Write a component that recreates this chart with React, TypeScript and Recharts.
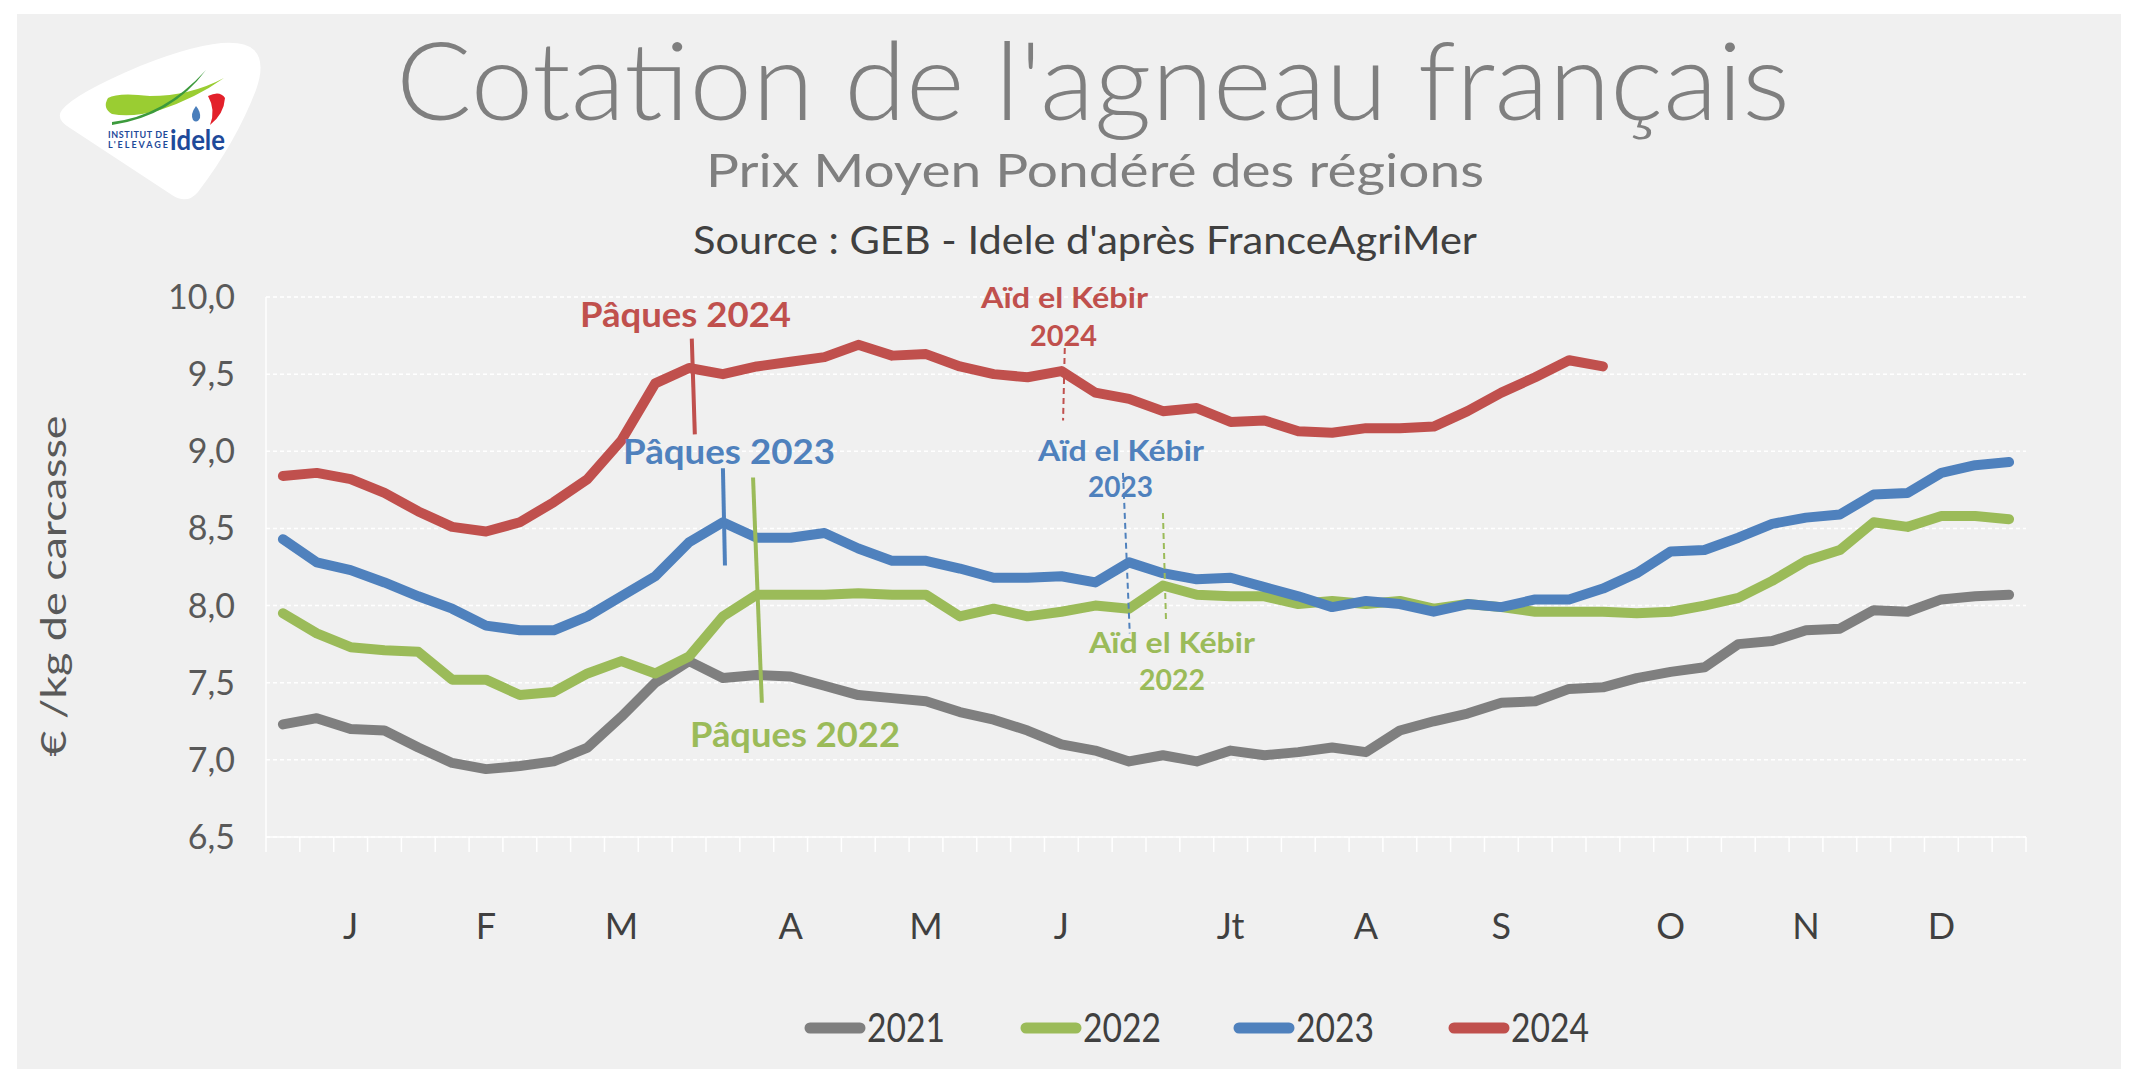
import React from 'react';
import { LineChart, Line, XAxis, YAxis, CartesianGrid, ReferenceLine } from 'recharts';

// semaines 1..52
const weeks = Array.from({ length: 52 }, (_, i) => i + 1);

const y2021 = [
  7.23, 7.27, 7.2, 7.19, 7.08, 6.98, 6.94, 6.96, 6.99, 7.08,
  7.28, 7.5, 7.64, 7.53, 7.55, 7.54, 7.48, 7.42, 7.4, 7.38,
  7.31, 7.26, 7.19, 7.1, 7.06, 6.99, 7.03, 6.99, 7.06, 7.03,
  7.05, 7.08, 7.05, 7.19, 7.25, 7.3, 7.37, 7.38, 7.46, 7.47,
  7.53, 7.57, 7.6, 7.75, 7.77, 7.84, 7.85, 7.97, 7.96, 8.04,
  8.06, 8.07,
];
const y2022 = [
  7.95, 7.82, 7.73, 7.71, 7.7, 7.52, 7.52, 7.42, 7.44, 7.56,
  7.64, 7.56, 7.67, 7.93, 8.07, 8.07, 8.07, 8.08, 8.07, 8.07,
  7.93, 7.98, 7.93, 7.96, 8.0, 7.98, 8.13, 8.07, 8.06, 8.06,
  8.01, 8.03, 8.01, 8.03, 7.98, 8.01, 7.99, 7.96, 7.96, 7.96,
  7.95, 7.96, 8.0, 8.05, 8.16, 8.29, 8.36, 8.54, 8.51, 8.58,
  8.58, 8.56,
];
const y2023 = [
  8.43, 8.28, 8.23, 8.15, 8.06, 7.98, 7.87, 7.84, 7.84, 7.93,
  8.06, 8.19, 8.41, 8.54, 8.44, 8.44, 8.47, 8.37, 8.29, 8.29,
  8.24, 8.18, 8.18, 8.19, 8.15, 8.28, 8.21, 8.17, 8.18, 8.12,
  8.06, 7.99, 8.03, 8.01, 7.96, 8.01, 7.99, 8.04, 8.04, 8.11,
  8.21, 8.35, 8.36, 8.44, 8.53, 8.57, 8.59, 8.72, 8.73, 8.86,
  8.91, 8.93,
];
const y2024 = [
  8.84, 8.86, 8.82, 8.73, 8.61, 8.51, 8.48, 8.54, 8.67, 8.82,
  9.07, 9.44, 9.54, 9.5, 9.55, 9.58, 9.61, 9.69, 9.62, 9.63,
  9.55, 9.5, 9.48, 9.52, 9.38, 9.34, 9.26, 9.28, 9.19, 9.2,
  9.13, 9.12, 9.15, 9.15, 9.16, 9.26, 9.38, 9.48, 9.59, 9.55,
];

const yTicks = [6.5, 7, 7.5, 8, 8.5, 9, 9.5, 10];
const monthTicks = [3, 7, 11, 16, 20, 24, 29, 33, 37, 42, 46, 50];
const monthLabels = ['J', 'F', 'M', 'A', 'M', 'J', 'Jt', 'A', 'S', 'O', 'N', 'D'];
const weekBounds = Array.from({ length: 53 }, (_, i) => i + 0.5);

const series = [
  { key: 'y2021', name: '2021', color: '#7f7f7f', values: y2021 },
  { key: 'y2022', name: '2022', color: '#9bbb59', values: y2022 },
  { key: 'y2023', name: '2023', color: '#4f81bd', values: y2023 },
  { key: 'y2024', name: '2024', color: '#c0504d', values: y2024 },
];

const data = weeks.map((w, i) => {
  const row: any = { week: w };
  series.forEach((s) => {
    row[s.key] = i < s.values.length ? s.values[i] : null;
  });
  return row;
});

const FONT = 'Lato, "Noto Sans", sans-serif';

const WeekTick = (props: any) => {
  const { x, y, payload } = props;
  const mi = monthTicks.indexOf(payload.value);
  if (mi >= 0) {
    return (
      <text x={x} y={y + 88} textAnchor="middle" dominantBaseline="central"
        fontSize={36} fill="#404040" fontFamily={FONT}>
        {monthLabels[mi]}
      </text>
    );
  }
  return <line x1={x} x2={x} y1={y} y2={y + 15} stroke="#ffffff" strokeWidth={1.5} />;
};

const Logo = () => (
  <g>
    <path d="M62 110 Q74 94 140 66 Q232 30 254 50 Q266 62 256 90 Q236 142 198 192 Q187 205 172 195 L70 128 Q55 119 62 110 Z" fill="#ffffff" />
    <path d="M108 98 Q118 92 150 96 Q190 96 224 78 Q196 98 160 110 Q132 118 112 114 Q102 108 108 98 Z" fill="#9acd32" />
    <path d="M112 122 Q164 116 206 70 Q172 116 112 125 Z" fill="#3c9a3c" />
    <path d="M208 96 Q220 90 225 98 Q224 114 210 125 Q216 110 208 96 Z" fill="#e3202a" />
    <path d="M196 106 Q190 114 193 120 Q197 124 200 118 Q201 112 196 106 Z" fill="#4a7ebb" />
    <text x={108} y={138} fontSize={9} fontWeight={700} fill="#1e4a9a" fontFamily={FONT} textLength={60}>INSTITUT DE</text>
    <text x={108} y={148} fontSize={9} fontWeight={700} fill="#1e4a9a" fontFamily={FONT} textLength={60}>L'ELEVAGE</text>
    <text x={170} y={150} fontSize={28} fontWeight={700} fill="#1e4a9a" fontFamily={FONT} textLength={55} lengthAdjust="spacingAndGlyphs">idele</text>
  </g>
);

const Note = ({ x1, x2, y, color, size, children }: any) => (
  <text x={x1} y={y} fontSize={size} fontWeight={700} fill={color} fontFamily={FONT}
    textLength={x2 - x1} lengthAdjust="spacingAndGlyphs">
    {children}
  </text>
);

const legendX = [805, 1021, 1234, 1449];

export default function App() {
  return (
    <div style={{ position: 'absolute', left: 0, top: 0, width: 2138, height: 1069, background: '#ffffff' }}>
      <svg width={2138} height={1069} style={{ position: 'absolute', left: 0, top: 0 }}>
        <rect x={17} y={14} width={2104} height={1055} fill="#f0f0f0" />
        <Logo />
      </svg>
      <div style={{ position: 'absolute', left: 0, top: 0 }}>
        <LineChart width={2138} height={1069} data={data}
          margin={{ top: 297, right: 112, bottom: 132, left: 186 }}>
          <CartesianGrid vertical={false} stroke="#ffffff" strokeDasharray="4 3" strokeWidth={1.5} />
          <XAxis dataKey="week" type="number" domain={[0.5, 52.5]} allowDataOverflow
            ticks={[...weekBounds, ...monthTicks].sort((a, b) => a - b)} interval={0}
            tick={<WeekTick />} tickLine={false} tickSize={0} tickMargin={0}
            axisLine={{ stroke: '#ffffff', strokeWidth: 1.5 }} height={100} />
          <YAxis domain={[6.5, 10]} ticks={yTicks} allowDataOverflow width={80}
            tickFormatter={(v: number) => v.toFixed(1).replace('.', ',')}
            tickLine={false} tickSize={0} tickMargin={31}
            axisLine={{ stroke: '#ffffff', strokeWidth: 1.5 }}
            tick={{ fontSize: 34, fill: '#595959', fontFamily: FONT }} />
          {series.map((s) => (
            <Line key={s.key} dataKey={s.key} name={s.name} stroke={s.color} strokeWidth={10}
              strokeLinecap="round" strokeLinejoin="round" dot={false}
              isAnimationActive={false} connectNulls={false} />
          ))}
          <ReferenceLine segment={[{ x: 13.08, y: 9.73 }, { x: 13.17, y: 9.11 }]} stroke="#c0504d" strokeWidth={4} ifOverflow="visible" />
          <ReferenceLine segment={[{ x: 14.0, y: 8.89 }, { x: 14.06, y: 8.26 }]} stroke="#4f81bd" strokeWidth={4} ifOverflow="visible" />
          <ReferenceLine segment={[{ x: 14.89, y: 8.83 }, { x: 15.15, y: 7.37 }]} stroke="#9bbb59" strokeWidth={4} ifOverflow="visible" />
          <ReferenceLine segment={[{ x: 24.1, y: 9.67 }, { x: 24.05, y: 9.2 }]} stroke="#c0504d" strokeWidth={2} strokeDasharray="6 4" ifOverflow="visible" />
          <ReferenceLine segment={[{ x: 25.82, y: 8.86 }, { x: 26.02, y: 7.82 }]} stroke="#4f81bd" strokeWidth={2} strokeDasharray="6 4" ifOverflow="visible" />
          <ReferenceLine segment={[{ x: 27.0, y: 8.6 }, { x: 27.09, y: 7.91 }]} stroke="#9bbb59" strokeWidth={2} strokeDasharray="6 4" ifOverflow="visible" />
        </LineChart>
      </div>
      <svg width={2138} height={1069} style={{ position: 'absolute', left: 0, top: 0, pointerEvents: 'none' }}>
        <text x={396} y={120} fontSize={108} fill="#7f7f7f" fontFamily={FONT} fontWeight={300}
          textLength={1394} lengthAdjust="spacingAndGlyphs">Cotation de l'agneau français</text>
        <text x={706} y={187} fontSize={47} fill="#7f7f7f" fontFamily={FONT}
          textLength={778} lengthAdjust="spacingAndGlyphs">Prix Moyen Pondéré des régions</text>
        <text x={693} y={254} fontSize={38} fill="#404040" fontFamily={FONT}
          textLength={784} lengthAdjust="spacingAndGlyphs">Source : GEB - Idele d'après FranceAgriMer</text>
        <text x={0} y={0} transform="translate(66 586) rotate(-90)" textAnchor="middle" fontSize={34}
          fill="#595959" fontFamily={FONT} textLength={341}
          lengthAdjust="spacingAndGlyphs">€ /kg de carcasse</text>

        <Note x1={580} x2={791} y={327} color="#c0504d" size={34}>Pâques 2024</Note>
        <Note x1={623} x2={835} y={464} color="#4f81bd" size={34}>Pâques 2023</Note>
        <Note x1={690} x2={900} y={747} color="#9bbb59" size={34}>Pâques 2022</Note>
        <Note x1={981} x2={1148} y={308} color="#c0504d" size={28}>Aïd el Kébir</Note>
        <Note x1={1030} x2={1097} y={346} color="#c0504d" size={28}>2024</Note>
        <Note x1={1038} x2={1204} y={461} color="#4f81bd" size={28}>Aïd el Kébir</Note>
        <Note x1={1088} x2={1153} y={497} color="#4f81bd" size={28}>2023</Note>
        <Note x1={1089} x2={1255} y={653} color="#9bbb59" size={28}>Aïd el Kébir</Note>
        <Note x1={1139} x2={1205} y={690} color="#9bbb59" size={28}>2022</Note>

        {series.map((s, i) => (
          <g key={s.key}>
            <line x1={legendX[i] + 5} x2={legendX[i] + 55} y1={1028} y2={1028} stroke={s.color}
              strokeWidth={11} strokeLinecap="round" />
            <text x={legendX[i] + 62} y={1042} fontSize={40} fill="#404040" fontFamily={FONT}
              textLength={78} lengthAdjust="spacingAndGlyphs">{s.name}</text>
          </g>
        ))}
      </svg>
    </div>
  );
}
